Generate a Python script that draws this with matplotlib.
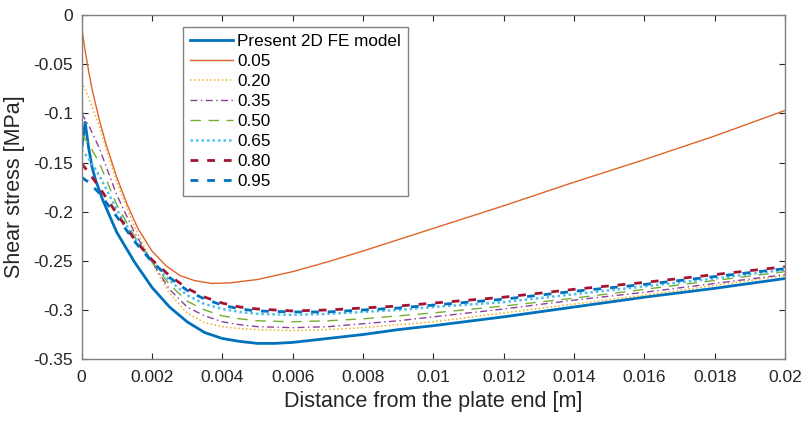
import matplotlib
matplotlib.use('Agg')
import matplotlib.pyplot as plt

plt.rcParams['font.family'] = ['Liberation Sans', 'DejaVu Sans']
plt.rcParams['axes.unicode_minus'] = False

## data
fe_x = [0, 0.0001, 0.0002, 0.0003, 0.0004, 0.0006, 0.001, 0.0015, 0.002, 0.0025, 0.003,
        0.0035, 0.004, 0.0045, 0.005, 0.0055, 0.006, 0.007, 0.008, 0.009, 0.01, 0.012,
        0.014, 0.016, 0.018, 0.02]
fe_y = [-0.137, -0.109, -0.135, -0.155, -0.168, -0.188, -0.221, -0.251, -0.277, -0.297, -0.312,
        -0.323, -0.329, -0.332, -0.334, -0.334, -0.333, -0.329, -0.325, -0.320, -0.316, -0.307,
        -0.297, -0.287, -0.278, -0.268]

r005_x = [0, 0.0001, 0.0002, 0.0003, 0.0005, 0.0007, 0.001, 0.0013, 0.0016, 0.002, 0.0024,
          0.0028, 0.0032, 0.0037, 0.0042, 0.005, 0.006, 0.007, 0.008, 0.01, 0.012, 0.014,
          0.016, 0.018, 0.02]
r005_y = [-0.012, -0.036, -0.057, -0.076, -0.106, -0.132, -0.165, -0.193, -0.217, -0.240, -0.255,
          -0.265, -0.270, -0.273, -0.2725, -0.269, -0.261, -0.251, -0.240, -0.217, -0.194, -0.170,
          -0.147, -0.123, -0.097]

x = [0, 0.0002, 0.0005, 0.001, 0.0015, 0.002, 0.0025, 0.003, 0.0035, 0.004, 0.0045, 0.005,
     0.006, 0.007, 0.008, 0.009, 0.01, 0.012, 0.014, 0.016, 0.018, 0.02]
r020 = [-0.068, -0.084, -0.113, -0.170, -0.215, -0.252, -0.283, -0.303, -0.313, -0.317, -0.319,
        -0.320, -0.321, -0.320, -0.318, -0.315, -0.312, -0.303, -0.294, -0.285, -0.275, -0.265]
r035 = [-0.100, -0.112, -0.135, -0.183, -0.221, -0.251, -0.279, -0.297, -0.306, -0.312, -0.315,
        -0.317, -0.318, -0.317, -0.314, -0.311, -0.307, -0.299, -0.290, -0.282, -0.273, -0.264]
r050 = [-0.121, -0.131, -0.150, -0.193, -0.225, -0.251, -0.274, -0.291, -0.300, -0.306, -0.309,
        -0.311, -0.312, -0.311, -0.309, -0.306, -0.303, -0.296, -0.288, -0.279, -0.270, -0.261]
r065 = [-0.137, -0.146, -0.163, -0.198, -0.227, -0.250, -0.270, -0.285, -0.294, -0.299, -0.302,
        -0.304, -0.305, -0.304, -0.302, -0.300, -0.297, -0.292, -0.284, -0.276, -0.268, -0.259]
r080 = [-0.151, -0.160, -0.175, -0.202, -0.228, -0.249, -0.265, -0.278, -0.287, -0.293, -0.297,
        -0.299, -0.301, -0.300, -0.298, -0.296, -0.293, -0.287, -0.279, -0.272, -0.264, -0.256]
r095 = [-0.165, -0.170, -0.181, -0.205, -0.230, -0.251, -0.267, -0.280, -0.289, -0.295, -0.299,
        -0.301, -0.302, -0.302, -0.300, -0.298, -0.295, -0.289, -0.281, -0.274, -0.266, -0.258]

labels = ['Present 2D FE model', '0.05', '0.20', '0.35', '0.50', '0.65', '0.80', '0.95']
xticks = [0, 0.002, 0.004, 0.006, 0.008, 0.01, 0.012, 0.014, 0.016, 0.018, 0.02]
xticklabels = ['0', '0.002', '0.004', '0.006', '0.008', '0.01', '0.012', '0.014', '0.016', '0.018', '0.02']
yticks = [0, -0.05, -0.1, -0.15, -0.2, -0.25, -0.3, -0.35]
yticklabels = ['0', '-0.05', '-0.1', '-0.15', '-0.2', '-0.25', '-0.3', '-0.35']

fig = plt.figure(figsize=(8.08, 4.21), dpi=100)
ax = fig.add_axes([0.101, 0.147, 0.8705, 0.817])

ax.plot(fe_x, fe_y, color='#0072BD', lw=2.0, ls='-', label=labels[0])
ax.plot(r005_x, r005_y, color='#E0642A', lw=1.0, ls='-', label=labels[1])
ax.plot(x, r020, color='#EDB120', lw=1.1, ls=(0, (1, 1.6)), label=labels[2])
ax.plot(x, r035, color='#8E3F9E', lw=1.0, ls=(0, (5, 2.5, 1, 2.5)), label=labels[3])
ax.plot(x, r050, color='#77AC30', lw=1.0, ls=(0, (7.5, 5.5)), label=labels[4])
ax.plot(x, r065, color='#4DBEEE', lw=1.8, ls=(0, (1, 1.2)), label=labels[5])
ax.plot(x, r080, color='#A2142F', lw=2.0, ls=(0, (2.8, 3.2)), label=labels[6])
ax.plot(x, r095, color='#0072BD', lw=2.0, ls=(0, (2.8, 3.2)), label=labels[7])

ax.set_xlim(0, 0.02)
ax.set_ylim(-0.35, 0)
ax.set_xticks(xticks)
ax.set_xticklabels(xticklabels)
ax.set_yticks(yticks)
ax.set_yticklabels(yticklabels)
ax.tick_params(direction='in', length=4.5, width=0.8, top=True, right=True,
               labelsize=12.5, colors='#262626')
ax.tick_params(axis='x', pad=8)
ax.tick_params(axis='y', pad=6)
for s in ax.spines.values():
    s.set_color('#808080')
    s.set_linewidth(1.0)

ax.set_xlabel('Distance from the plate end [m]', fontsize=15.5, color='#262626', labelpad=4)
ax.set_ylabel('Shear stress [MPa]', fontsize=15.5, color='#262626', labelpad=6)

leg = ax.legend(loc='upper left', bbox_to_anchor=(0.144, 0.965), borderaxespad=0,
                fontsize=12.3, handlelength=2.5, handletextpad=0.25, labelspacing=0.29,
                borderpad=0.42, fancybox=False, framealpha=1, edgecolor='#808080')
leg.get_frame().set_linewidth(1.0)

plt.savefig('out.png', dpi=100)
